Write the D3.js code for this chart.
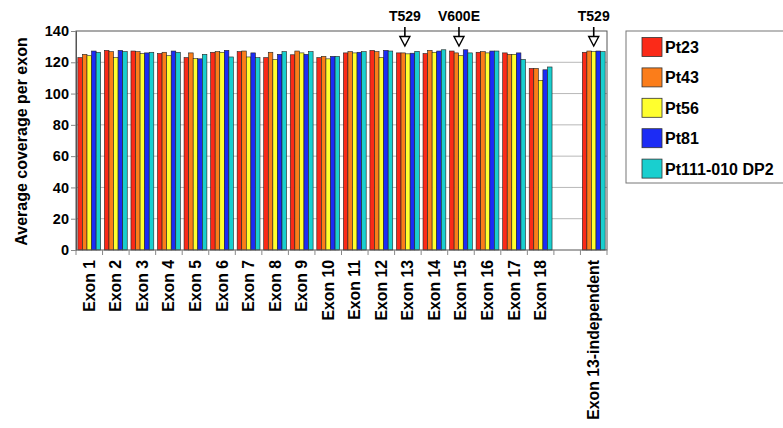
<!DOCTYPE html>
<html>
<head>
<meta charset="utf-8">
<script src="https://cdn.jsdelivr.net/npm/d3@7"></script>
<style>
  body { margin: 0; background: #fff; }
  svg text { font-family: "Liberation Sans", Arial, Helvetica, sans-serif; font-weight: bold; fill: #000; }
</style>
</head>
<body>
<svg id="chart" width="783" height="428"></svg>
<script>
// categories along x; "" is the empty gap slot
const CATEGORIES = ["Exon 1","Exon 2","Exon 3","Exon 4","Exon 5","Exon 6","Exon 7","Exon 8","Exon 9",
  "Exon 10","Exon 11","Exon 12","Exon 13","Exon 14","Exon 15","Exon 16","Exon 17","Exon 18","",
  "Exon 13-independent"];

const SERIES = ["Pt23","Pt43","Pt56","Pt81","Pt111-010 DP2"];
const COLORS = ["#fb2a18","#fb7d1a","#ffff2e","#1c2cf5","#19cfcf"];

// one value per category (null = no bar)
const PT23  = [123.0,127.6,127.2,125.6,123.0,126.4,126.8,123.0,124.8,123.0,126.0,127.6,126.0,125.6,127.2,126.4,126.0,116.1,null,126.4];
const PT43  = [125.1,126.8,126.8,126.4,126.0,126.8,127.2,126.4,127.2,123.8,126.8,126.8,126.0,127.6,126.0,126.8,125.1,116.1,null,127.2];
const PT56  = [124.2,123.0,125.6,124.2,122.4,126.4,123.4,121.8,126.0,122.2,126.0,123.0,125.4,126.4,124.2,126.0,125.1,108.4,null,126.8];
const PT81  = [127.2,127.6,126.0,127.2,122.2,127.6,126.0,125.1,125.1,123.8,126.4,127.6,125.8,127.2,128.0,127.2,126.0,115.2,null,127.2];
const PT111 = [126.4,126.8,126.4,126.4,125.1,123.4,123.0,126.8,126.8,123.8,126.8,127.2,127.0,128.0,126.0,127.2,121.8,117.0,null,126.8];
const VALUES = [PT23, PT43, PT56, PT81, PT111];

const Y_TICKS = [0,20,40,60,80,100,120,140];

// mutation markers: label above an arrow pointing at a category
const MARKERS = [
  { cat: "Exon 13", label: "T529", dx: -3 },
  { cat: "Exon 15", label: "V600E", dx: -2 },
  { cat: "Exon 13-independent", label: "T529", dx: 0 }
];

const svg = d3.select("#chart");
const m = { left: 76, top: 31, right: 607, bottom: 250 };

const x0 = d3.scaleBand().domain(CATEGORIES.map((c, i) => i))
    .range([m.left, m.right]).paddingInner(0.14).paddingOuter(0.07);
const x1 = d3.scaleBand().domain(SERIES).range([0, x0.bandwidth()]);
const y = d3.scaleLinear().domain([0, 140]).range([m.bottom, m.top]);

// gridlines
svg.append("g").selectAll("line").data(Y_TICKS.slice(1, -1)).join("line")
    .attr("x1", m.left).attr("x2", m.right)
    .attr("y1", d => y(d)).attr("y2", d => y(d))
    .attr("stroke", "#b8b8b8").attr("stroke-width", 1);

// bars
const groups = svg.append("g").selectAll("g").data(CATEGORIES).join("g")
    .attr("transform", (d, i) => `translate(${x0(i)},0)`);

groups.selectAll("rect")
    .data((d, i) => SERIES.map((s, k) => ({ s, k, v: VALUES[k][i] })).filter(e => e.v != null))
    .join("rect")
    .attr("x", e => x1(e.s))
    .attr("y", e => y(e.v))
    .attr("width", x1.bandwidth())
    .attr("height", e => y(0) - y(e.v))
    .attr("fill", e => COLORS[e.k])
    .attr("stroke", "#222").attr("stroke-width", 0.6);

// frame
svg.append("rect")
    .attr("x", m.left).attr("y", m.top)
    .attr("width", m.right - m.left).attr("height", m.bottom - m.top)
    .attr("fill", "none").attr("stroke", "#555").attr("stroke-width", 1);

// y axis
const yAxis = svg.append("g").attr("transform", `translate(${m.left},0)`)
    .call(d3.axisLeft(y).tickValues(Y_TICKS).tickSize(5).tickPadding(2));
yAxis.select(".domain").attr("stroke", "#555");
yAxis.selectAll(".tick line").attr("stroke", "#888");
yAxis.selectAll("text").attr("font-size", 14.5)
    .style("font-family", '"Liberation Sans", Arial, sans-serif').style("font-weight", "bold").attr("fill", "#000");

svg.append("text")
    .attr("transform", `translate(27,${(m.top + m.bottom) / 2 + 1}) rotate(-90)`)
    .attr("text-anchor", "middle").attr("font-size", 16)
    .text("Average coverage per exon");

// x axis: ticks at slot boundaries
const step = x0.step();
const bounds = d3.range(CATEGORIES.length + 1).map(i => m.left + i * step);
svg.append("g").selectAll("line").data(bounds).join("line")
    .attr("x1", d => d).attr("x2", d => d)
    .attr("y1", m.bottom).attr("y2", m.bottom + 5)
    .attr("stroke", "#888");

svg.append("g").selectAll("text").data(CATEGORIES).join("text")
    .attr("transform", (d, i) => `translate(${x0(i) + x0.bandwidth() / 2 + 5.5},${m.bottom + 10}) rotate(-90)`)
    .attr("text-anchor", "end").attr("font-size", 15.8)
    .text(d => d);

// markers
const mk = svg.append("g").selectAll("g").data(MARKERS).join("g")
    .attr("transform", d => `translate(${x0(CATEGORIES.indexOf(d.cat)) + x0.bandwidth() / 2 + d.dx},0)`);
mk.append("text").attr("y", 21).attr("text-anchor", "middle").attr("font-size", 14).text(d => d.label);
mk.append("line").attr("y1", 27).attr("y2", 38).attr("stroke", "#000").attr("stroke-width", 1.6);
mk.append("path").attr("d", "M-5,36.5L5,36.5L0,46Z")
    .attr("fill", "#fff").attr("stroke", "#000").attr("stroke-width", 1.4);

// legend
const lg = svg.append("g");
lg.append("rect").attr("x", 626).attr("y", 31).attr("width", 170).attr("height", 152)
    .attr("fill", "#fff").attr("stroke", "#777").attr("stroke-width", 1);
const items = lg.selectAll("g").data(SERIES).join("g")
    .attr("transform", (d, i) => `translate(642,${37.5 + i * 30.4})`);
items.append("rect").attr("width", 20).attr("height", 19)
    .attr("fill", (d, i) => COLORS[i]).attr("stroke", "#333").attr("stroke-width", 0.8);
items.append("text").attr("x", 23).attr("y", 15.5).attr("font-size", 16).text(d => d);
</script>
</body>
</html>
